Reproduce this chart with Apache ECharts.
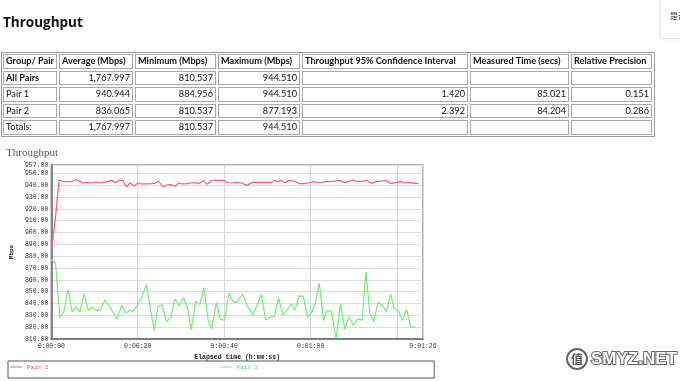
<!DOCTYPE html>
<html>
<head>
<meta charset="utf-8">
<script src="https://cdn.jsdelivr.net/npm/echarts@6/dist/echarts.min.js"></script>
<style>
  html, body { margin:0; padding:0; background:#fff; }
  body { width:680px; height:381px; overflow:hidden; position:relative; }
  #chart { position:absolute; left:0; top:0; width:680px; height:381px; }
  #page { position:absolute; left:0; top:0; width:680px; height:140px; font-family:"Lato", "Open Sans", sans-serif; color:#111; }
  .h1 { position:absolute; left:3px; top:13px; font-family:"Open Sans", sans-serif; font-size:13.5px; font-weight:bold; white-space:nowrap; }
  .tbl { position:absolute; border:1px solid #9a9a9a; box-sizing:border-box; }
  .cell { position:absolute; box-sizing:border-box; border:1px solid #a8a8a8; font-size:9.2px; line-height:12.5px; white-space:nowrap; overflow:hidden; padding:0 2px 0 2px; }
  .r { text-align:right; }
  .b { font-weight:bold; }
  .side { position:absolute; left:660px; top:-2px; width:40px; height:39px; border:1px solid #e6e6e6; box-shadow:0 0 3px rgba(0,0,0,0.12); background:#fff; font-family:"Noto Sans CJK SC", sans-serif; font-size:8px; color:#333; }
  .side span { position:absolute; left:9px; top:11px; white-space:nowrap; }
</style>
</head>
<body>
<div id="chart"></div>
<div id="page">
  <div class="h1">Throughput</div>
  <div class="side"><span>是否</span></div>
</div>
<script>
// ---------- table data ----------
const tableHeader = ["Group/ Pair", "Average (Mbps)", "Minimum (Mbps)", "Maximum (Mbps)", "Throughput 95% Confidence Interval", "Measured Time (secs)", "Relative Precision"];
const tableRows = [
  ["All Pairs", "1,767.997", "810.537", "944.510", "", "", ""],
  ["Pair 1", "940.944", "884.956", "944.510", "1.420", "85.021", "0.151"],
  ["Pair 2", "836.065", "810.537", "877.193", "2.392", "84.204", "0.286"],
  ["Totals:", "1,767.997", "810.537", "944.510", "", "", ""]
];

// ---------- chart data ----------
const seriesNames = ["Pair 1", "Pair 2"];
const pair1Time = [0,0.9,1.8,2.8,3.7,4.6,5.6,6.5,7.4,8.3,9.3,10.2,11.1,12.1,13.0,13.9,14.8,15.8,16.5,17.4,18.2,19.2,20.1,20.8,21.9,23.0,24.0,24.8,25.8,26.7,27.6,28.6,29.5,30.4,31.4,32.3,33.3,34.3,35.3,36.0,37.0,37.9,39.0,39.9,40.8,41.8,
  42.9,44.0,45.2,46.6,48.1,49.6,51.0,51.6,52.5,53.3,54.0,55.1,56.3,57.4,58.5,59.6,60.7,62.2,63.3,64.4,65.6,66.7,67.8,68.9,69.8,70.8,71.9,73.0,74.1,75.2,76.3,77.5,78.6,79.7,80.8,81.9,83.0,84.2,84.9];
const pair1Mbps = [885.0,910.0,944.5,942.9,942.9,942.9,944.5,943.4,941.8,942.3,941.8,942.6,941.8,942.3,942.9,944.0,942.3,944.0,944.0,938.6,941.8,939.2,942.0,941.0,941.0,941.2,941.5,943.4,938.4,940.1,940.6,939.2,941.8,941.0,941.2,941.8,942.0,941.5,943.7,940.6,943.7,944.3,944.0,944.0,942.0,941.8,
  942.3,941.8,939.8,942.3,942.3,942.3,942.3,944.0,943.0,944.0,942.0,944.0,943.4,941.2,941.2,942.0,942.9,941.8,942.9,942.9,943.4,944.0,942.0,942.9,944.5,942.9,943.4,944.0,941.5,942.9,943.4,944.0,941.2,942.3,942.9,941.8,942.3,941.2,941.5];
const pair2Time = [0,0.97,2.0,2.9,3.9,4.8,5.7,6.6,7.6,8.6,9.5,10.5,11.4,12.4,13.3,14.2,15.2,16.3,17.2,18.1,
  19.0,20.0,20.9,22.0,23.8,24.7,25.6,26.7,27.7,28.6,29.6,30.6,31.5,32.4,33.4,34.4,35.3,36.3,37.1,38.2,
  39.1,40.1,41.1,42.0,42.9,44.3,45.3,46.7,48.6,49.6,50.7,51.6,52.6,53.6,54.5,55.5,56.3,57.4,58.3,59.3,
  60.2,61.1,62.0,63.0,63.8,64.8,65.9,66.9,67.9,68.9,69.9,70.9,71.9,72.8,73.7,74.6,75.6,76.6,77.5,78.5,
  79.3,80.3,81.2,82.2,83.2,84.2];
const pair2Mbps = [877.2,874,828,833,852,833,837,833,848,834,837,834,835,843,838.5,833,827,838.5,832,834,
  833.5,839,845,856,817,837.5,839,824.5,829,844,838,845,836,818,842,839,853.5,825.5,818.5,841,
  826.5,826,849,841.5,841,848,838,830.5,847.5,826,828.5,829,844.5,830.5,834,839.5,834,846.5,846,828.5,
  832,840.5,857,825.5,834,833.5,810.5,839.5,818.5,829,821.5,827,826,866.5,832,824.5,841,838.5,833,848,
  836,834,825.5,835,820,820];
const xMin = 0, xMax = 86, xStep = 20;
const yMin = 810, yMax = 957, yStep = 10;

// ---------- table layout ----------
const colEdges = [3, 59, 135, 218, 302, 470, 571, 654];
const rowTops = [54, 70.5, 87, 103.5, 120];
const rowH = 14.5;
(function buildTable(){
  const page = document.getElementById('page');
  const t = document.createElement('div');
  t.className = 'tbl';
  t.style.left = '1px'; t.style.top = '52px';
  t.style.width = (colEdges[colEdges.length-1] - 1 + 1) + 'px';
  t.style.height = (rowTops[rowTops.length-1] + rowH + 2 - 52) + 'px';
  page.appendChild(t);
  const rows = [tableHeader].concat(tableRows);
  rows.forEach((row, ri) => {
    row.forEach((txt, ci) => {
      const c = document.createElement('div');
      c.className = 'cell' + (ri === 0 || (ri === 1 && ci === 0) ? ' b' : '') + (ri > 0 && ci > 0 ? ' r' : '');
      c.style.left = colEdges[ci] + 'px';
      c.style.top = rowTops[ri] + 'px';
      c.style.width = (colEdges[ci+1] - colEdges[ci] - 2) + 'px';
      c.style.height = rowH + 'px';
      c.textContent = txt;
      page.appendChild(c);
    });
  });
})();

// ---------- chart ----------
const colors = ['#ff5a70', '#6ef06e'];
const mono = '"Liberation Mono", "DejaVu Sans Mono", monospace';
function fmtTime(s) {
  const m = Math.floor(s / 60), ss = Math.round(s % 60);
  return '0:' + String(m).padStart(2, '0') + ':' + String(ss).padStart(2, '0');
}
const chart = echarts.init(document.getElementById('chart'), null, { renderer: 'canvas' });
chart.setOption({
  animation: false,
  backgroundColor: 'transparent',
  color: colors,
  title: {
    text: 'Throughput', left: 6, top: 148, padding: 0,
    textStyle: { fontFamily: '"Liberation Serif", serif', fontSize: 11, fontWeight: 'normal', color: '#555' }
  },
  grid: { left: 38, top: 165, width: 385, height: 174, show: true, borderColor: '#999', borderWidth: 1.5, backgroundColor: 'transparent' },
  xAxis: {
    type: 'value', min: xMin, max: xMax, interval: xStep,
    axisLine: { show: true, onZero: false, lineStyle: { color: '#666', width: 1.5 } },
    axisTick: { show: false },
    axisLabel: { formatter: fmtTime, fontFamily: mono, fontSize: 6.5, color: '#333', margin: 4, showMaxLabel: true, showMinLabel: true },
    splitLine: { show: true, lineStyle: { color: '#d6d6d6', width: 1 } },
    name: 'Elapsed time (h:mm:ss)', nameLocation: 'middle', nameGap: 15,
    nameTextStyle: { fontFamily: mono, fontSize: 6.5, fontWeight: 'bold', color: '#222' }
  },
  yAxis: {
    type: 'value', min: yMin, max: yMax, interval: yStep,
    axisLine: { show: true, lineStyle: { color: '#666', width: 1.5 } },
    axisTick: { show: false },
    axisLabel: { formatter: v => v.toFixed(2), fontFamily: mono, fontSize: 6.5, color: '#333', margin: 3, showMaxLabel: true },
    splitLine: { show: true, lineStyle: { color: '#dcdcdc', width: 1 } },
    name: 'Mbps', nameLocation: 'middle', nameRotate: 90, nameGap: 26,
    nameTextStyle: { fontFamily: mono, fontSize: 6, fontWeight: 'bold', color: '#222' }
  },
  legend: {
    left: 8, top: 361,
    padding: [3, 176, 8, 2],
    borderColor: '#555', borderWidth: 1,
    icon: 'rect', itemWidth: 12, itemHeight: 1, itemGap: 171,
    textStyle: { fontFamily: mono, fontSize: 6 },
    data: [
      { name: seriesNames[0], textStyle: { color: '#ff4050' } },
      { name: seriesNames[1], textStyle: { color: '#50e050' } }
    ]
  },
  series: [
    { name: seriesNames[0], type: 'line', showSymbol: false, symbol: 'none',
      lineStyle: { width: 1.2, color: colors[0] },
      data: pair1Time.map((t, i) => [t, pair1Mbps[i]]) },
    { name: seriesNames[1], type: 'line', showSymbol: false, symbol: 'none',
      lineStyle: { width: 1.2, color: colors[1] },
      data: pair2Time.map((t, i) => [t, pair2Mbps[i]]) }
  ],
  graphic: [
    { type: 'circle', shape: { cx: 577, cy: 359, r: 10 }, style: { fill: '#fff', stroke: '#666', lineWidth: 2 } },
    { type: 'text', x: 577, y: 359, style: { text: '值', fontFamily: '"Noto Sans CJK SC", sans-serif', fontSize: 12, fontWeight: 'bold', fill: '#555', align: 'center', verticalAlign: 'middle' } },
    { type: 'text', x: 591, y: 359, style: { text: 'SMYZ.NET', fontFamily: '"Liberation Sans", Arial, sans-serif', fontSize: 17, fontWeight: 'bold', fill: '#fff', stroke: '#666', lineWidth: 2, verticalAlign: 'middle' } }
  ]
});
</script>
</body>
</html>
